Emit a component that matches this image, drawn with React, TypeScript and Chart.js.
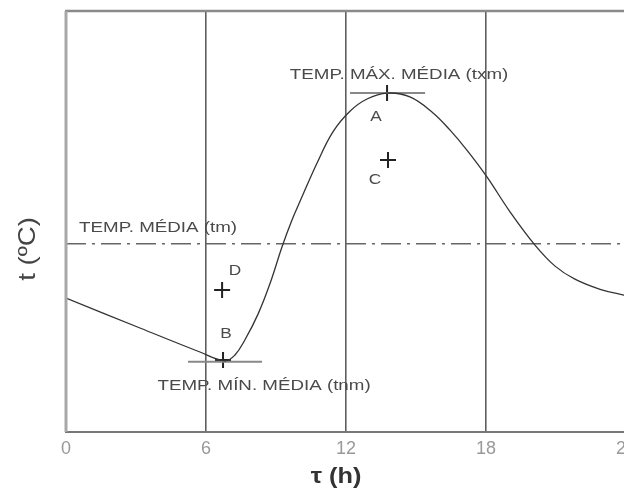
import React, { useEffect, useRef } from "react";
import { Chart, registerables } from "chart.js";
Chart.register(...registerables);

// Daily temperature curve (hour of day, relative temperature units)
const HOURS = [0, 3.17, 5.74, 6.81, 7.24, 7.67, 8.23, 8.74, 9.26, 9.69, 10.11, 10.76, 11.44, 12.17, 12.9, 13.76, 14.74, 15.73, 16.46, 17.19, 18.04, 19.03, 20.1, 20.96, 21.81, 22.89, 24];
const TEMPS = [31.8, 24.7, 19.0, 16.9, 18.3, 21.9, 28.0, 35.2, 44.0, 50.4, 55.8, 63.9, 71.3, 76.2, 79.1, 80.5, 79.6, 75.8, 71.7, 66.9, 60.6, 52.3, 44.4, 39.4, 36.3, 33.9, 32.4];
const X_TICKS = [0, 6, 12, 18, 24];
const MEAN_T = 44.7;
const MAX_T = 80.5;
const MIN_T = 16.7;
const MAX_BAR_X = [12.17, 15.39];
const MIN_BAR_X = [5.23, 8.4];
const MARK_LABELS = ["A", "B", "C", "D"];
const MARK_X = [13.76, 6.73, 13.8, 6.69];
const MARK_Y = [80.5, 17.1, 64.6, 33.7];
const MARK_OFFSETS: [number, number][] = [[-11, 24], [3, -26], [-13, 20], [13, -19]];
const TXT_MAX = "TEMP. MÁX. MÉDIA (txm)";
const TXT_MEAN = "TEMP. MÉDIA (tm)";
const TXT_MIN = "TEMP. MÍN. MÉDIA (tnm)";
const Y_TITLE = "t (ºC)";
const X_TITLE = "τ (h)";

function stretchedText(ctx: CanvasRenderingContext2D, text: string, x: number, y: number, align: "left" | "center", sx = 1.25) {
  ctx.save();
  ctx.translate(x, y);
  ctx.scale(sx, 1);
  ctx.textAlign = align;
  ctx.textBaseline = "middle";
  ctx.fillText(text, 0, 0);
  ctx.restore();
}

const decor = {
  id: "decor",
  afterDatasetsDraw(chart: any) {
    const { ctx, chartArea, scales } = chart;
    const xs = scales.x, ys = scales.y;
    ctx.save();
    // top border
    ctx.strokeStyle = "#8a8a8a";
    ctx.lineWidth = 2.5;
    ctx.beginPath();
    ctx.moveTo(chartArea.left - 1, chartArea.top);
    ctx.lineTo(chartArea.right + 60, chartArea.top);
    ctx.stroke();
    // left border
    ctx.strokeStyle = "#a8a8a8";
    ctx.lineWidth = 3;
    ctx.beginPath();
    ctx.moveTo(chartArea.left, chartArea.top);
    ctx.lineTo(chartArea.left, chartArea.bottom);
    ctx.stroke();

    ctx.fillStyle = "#4a4a4a";
    ctx.font = "15px 'Liberation Sans', Arial, sans-serif";
    for (let i = 0; i < MARK_LABELS.length; i++) {
      const px = xs.getPixelForValue(MARK_X[i]) + MARK_OFFSETS[i][0];
      const py = ys.getPixelForValue(MARK_Y[i]) + MARK_OFFSETS[i][1];
      stretchedText(ctx, MARK_LABELS[i], px, py, "center", 1.15);
    }
    stretchedText(ctx, TXT_MAX, xs.getPixelForValue(MARK_X[0]) + 12, ys.getPixelForValue(MAX_T) - 18, "center");
    stretchedText(ctx, TXT_MEAN, xs.getPixelForValue(0.56), ys.getPixelForValue(MEAN_T) - 16, "left");
    stretchedText(ctx, TXT_MIN, xs.getPixelForValue(MARK_X[1]) + 41, ys.getPixelForValue(MIN_T) + 24, "center");

    // axis titles
    ctx.fillStyle = "#333";
    ctx.font = "bold 22px 'Liberation Sans', Arial, sans-serif";
    stretchedText(ctx, X_TITLE, 336, 477, "center", 1.15);
    ctx.save();
    ctx.translate(28, 249);
    ctx.rotate(-Math.PI / 2);
    ctx.fillStyle = "#444";
    ctx.font = "24px 'Liberation Sans', Arial, sans-serif";
    stretchedText(ctx, Y_TITLE, 0, 0, "center", 1.15);
    ctx.restore();
    ctx.restore();
  },
};

export default function App() {
  const ref = useRef<HTMLCanvasElement>(null);
  useEffect(() => {
    if (!ref.current) return;
    const curve = HOURS.map((h, i) => ({ x: h, y: TEMPS[i] }));
    const chart = new Chart(ref.current, {
      type: "line",
      data: {
        datasets: [
          {
            data: curve,
            borderColor: "#333",
            borderWidth: 1.3,
            pointRadius: 0,
            tension: 0.4,
          },
          {
            data: [{ x: 0, y: MEAN_T }, { x: 24, y: MEAN_T }],
            borderColor: "#666",
            borderWidth: 1.5,
            borderDash: [20, 6, 3, 6],
            pointRadius: 0,
          },
          {
            data: MAX_BAR_X.map((x) => ({ x, y: MAX_T })),
            borderColor: "#888",
            borderWidth: 2,
            pointRadius: 0,
          },
          {
            data: MIN_BAR_X.map((x) => ({ x, y: MIN_T })),
            borderColor: "#888",
            borderWidth: 2,
            pointRadius: 0,
          },
          {
            type: "scatter",
            data: MARK_X.map((x, i) => ({ x, y: MARK_Y[i] })),
            pointStyle: "cross",
            pointRadius: 8,
            borderColor: "#222",
            borderWidth: 2,
            showLine: false,
          } as any,
        ],
      },
      options: {
        responsive: false,
        animation: false,
        devicePixelRatio: 1,
        layout: { padding: { left: 66, top: 11, right: 54, bottom: 0 } },
        plugins: { legend: { display: false }, tooltip: { enabled: false } },
        scales: {
          x: {
            type: "linear",
            min: 0,
            max: 24,
            afterBuildTicks: (s: any) => {
              s.ticks = X_TICKS.map((v) => ({ value: v }));
            },
            afterFit: (s: any) => {
              s.height = 61;
            },
            grid: {
              drawTicks: false,
              color: (c: any) => (c.tick && (c.tick.value === 0 || c.tick.value === 24) ? "transparent" : "#5e5e5e"),
              lineWidth: 1.6,
            },
            border: { display: true, color: "#777", width: 2 },
            ticks: {
              padding: 6,
              color: "#999",
              font: { size: 18, family: "'Liberation Sans', Arial, sans-serif" },
              maxRotation: 0,
            },
          },
          y: { display: false, min: 0, max: 100 },
        },
      },
      plugins: [decor],
    });
    return () => chart.destroy();
  }, []);
  return (
    <div style={{ position: "fixed", left: 0, top: 0, width: 624, height: 493, overflow: "hidden", background: "#fff" }}>
      <canvas ref={ref} width={680} height={493} style={{ width: 680, height: 493, display: "block" }} />
    </div>
  );
}
